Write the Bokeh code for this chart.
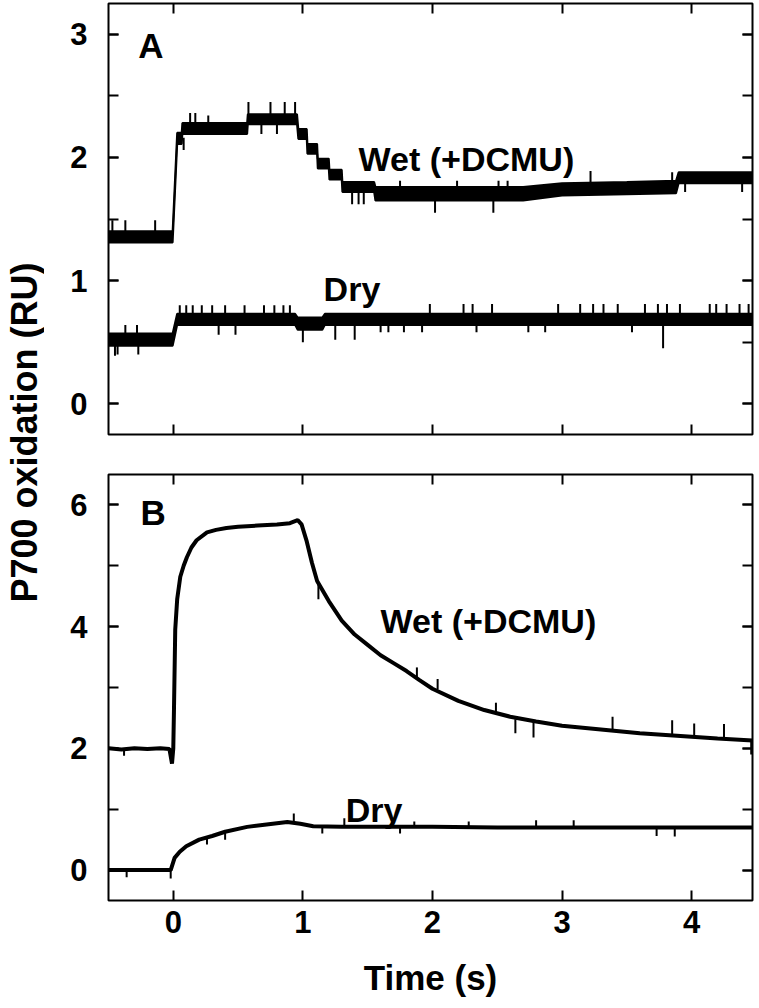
from bokeh.plotting import figure
from bokeh.layouts import row, column
from bokeh.models import Label, LinearAxis, SingleIntervalTicker, Range1d
from bokeh.embed import file_html
from bokeh.resources import INLINE

FONT = "Liberation Sans"

# ---------------- data ----------------
x_limits = (-0.5, 4.47)
yA_limits = (-0.25, 3.25)
yB_limits = (-0.5, 6.5)

# Panel A, Wet (+DCMU): band (low/high) of the quantised trace
wetA_t = [-0.5, -0.005, 0.03, 0.065, 0.07, 0.57, 0.575, 0.955, 0.965, 1.03, 1.035, 1.11, 1.115,
          1.2, 1.205, 1.3, 1.305, 1.55, 1.56, 2.7, 3.0, 3.5, 3.88, 3.9, 4.47]
wetA_low = [1.31, 1.31, 2.11, 2.11, 2.19, 2.19, 2.27, 2.27, 2.15, 2.15, 2.03, 2.03, 1.91,
            1.91, 1.82, 1.82, 1.72, 1.72, 1.65, 1.65, 1.69, 1.70, 1.71, 1.79, 1.79]
wetA_high = [1.40, 1.40, 2.20, 2.20, 2.28, 2.28, 2.35, 2.35, 2.23, 2.23, 2.11, 2.11, 1.99,
             1.99, 1.90, 1.90, 1.80, 1.80, 1.76, 1.76, 1.79, 1.80, 1.81, 1.88, 1.88]
wetA_spk_t = [-0.47, -0.37, -0.14, 0.08, 0.13, 0.17, 0.27, 0.58, 0.68, 0.75, 0.80, 0.86, 0.94,
              1.38, 1.43, 1.47, 1.75, 2.02, 2.19, 2.47, 2.51, 2.58, 3.22, 3.85, 3.95, 4.39]
wetA_spk_base = [1.36, 1.36, 1.36, 2.16, 2.24, 2.24, 2.24, 2.31, 2.31, 2.31, 2.31, 2.31, 2.31,
                 1.76, 1.76, 1.76, 1.70, 1.70, 1.70, 1.70, 1.70, 1.70, 1.75, 1.77, 1.83, 1.83]
wetA_spk_tip = [1.49, 1.49, 1.49, 2.06, 2.36, 2.36, 2.34, 2.45, 2.19, 2.45, 2.19, 2.45, 2.45,
                1.62, 1.62, 1.62, 1.81, 1.55, 1.81, 1.55, 1.81, 1.81, 1.89, 1.88, 1.72, 1.72]

# Panel A, Dry
dryA_t = [-0.5, -0.005, 0.03, 0.94, 0.96, 1.15, 1.17, 4.47]
dryA_low = [0.47, 0.47, 0.64, 0.64, 0.60, 0.60, 0.64, 0.64]
dryA_high = [0.57, 0.57, 0.73, 0.73, 0.70, 0.70, 0.73, 0.73]
dryA_spk_t = [-0.45, -0.43, -0.37, -0.28, -0.27, 0.05, 0.10, 0.15, 0.22, 0.30, 0.35, 0.40, 0.48,
              0.55, 0.70, 0.78, 0.85, 0.90, 1.00, 1.25, 1.40, 1.60, 1.66, 1.78, 1.92, 1.98, 2.24,
              2.31, 2.34, 2.46, 2.74, 2.87, 2.97, 3.14, 3.24, 3.32, 3.43, 3.54, 3.64, 3.74, 3.78,
              3.81, 3.91, 4.14, 4.19, 4.27, 4.37, 4.44]
dryA_spk_base = [0.52, 0.52, 0.52, 0.52, 0.52, 0.68, 0.68, 0.68, 0.68, 0.68, 0.68, 0.68, 0.68,
                 0.68, 0.68, 0.68, 0.68, 0.68, 0.65, 0.66, 0.66, 0.69, 0.69, 0.69, 0.69, 0.69, 0.69,
                 0.69, 0.69, 0.69, 0.69, 0.69, 0.69, 0.69, 0.69, 0.69, 0.69, 0.69, 0.69, 0.69, 0.69,
                 0.69, 0.69, 0.69, 0.69, 0.69, 0.69, 0.69]
dryA_spk_tip = [0.39, 0.40, 0.64, 0.64, 0.40, 0.80, 0.80, 0.80, 0.80, 0.80, 0.56, 0.80, 0.56,
                0.80, 0.80, 0.80, 0.80, 0.80, 0.50, 0.52, 0.52, 0.58, 0.58, 0.58, 0.58, 0.81, 0.81,
                0.81, 0.58, 0.81, 0.58, 0.58, 0.81, 0.81, 0.81, 0.81, 0.81, 0.58, 0.81, 0.81, 0.45,
                0.81, 0.81, 0.81, 0.81, 0.81, 0.81, 0.81]

# Panel B, Wet (+DCMU)
wetB_t = [-0.5, -0.4, -0.3, -0.2, -0.1, -0.03, -0.01, 0.0, 0.005, 0.015, 0.03, 0.054, 0.08, 0.105,
          0.14, 0.18, 0.26, 0.33, 0.41, 0.5, 0.65, 0.8, 0.9, 0.96, 0.99, 1.03, 1.07, 1.11, 1.2,
          1.3, 1.4, 1.5, 1.6, 1.7, 1.8, 1.9, 2.0, 2.2, 2.4, 2.6, 2.8, 3.0, 3.2, 3.4, 3.6, 3.8,
          4.0, 4.2, 4.47]
wetB_v = [2.0, 1.98, 2.0, 1.99, 2.0, 1.99, 1.75, 2.0, 2.6, 3.95, 4.45, 4.82, 5.0, 5.14,
          5.3, 5.42, 5.55, 5.59, 5.62, 5.64, 5.66, 5.68, 5.7, 5.75, 5.68, 5.4, 5.05, 4.75, 4.42,
          4.1, 3.87, 3.7, 3.53, 3.4, 3.27, 3.12, 2.98, 2.78, 2.63, 2.52, 2.44, 2.37, 2.33, 2.29,
          2.25, 2.22, 2.19, 2.16, 2.13]
wetB_spk_t = [-0.38, 1.12, 1.88, 2.04, 2.49, 2.64, 2.78, 3.39, 3.85, 4.02, 4.25, 4.46]
wetB_spk_base = [2.0, 4.7, 3.15, 2.97, 2.58, 2.48, 2.43, 2.29, 2.21, 2.19, 2.16, 2.13]
wetB_spk_tip = [1.88, 4.45, 3.33, 3.14, 2.75, 2.25, 2.18, 2.52, 2.46, 2.41, 2.40, 1.90]

# Panel B, Dry
dryB_t = [-0.5, -0.3, -0.1, -0.02, 0.01, 0.05, 0.1, 0.2, 0.3, 0.4, 0.57, 0.72, 0.88, 0.98,
          1.08, 1.3, 1.6, 2.0, 2.5, 3.0, 3.5, 4.0, 4.47]
dryB_v = [0.0, 0.0, 0.0, 0.0, 0.2, 0.3, 0.39, 0.5, 0.56, 0.63, 0.71, 0.75, 0.79, 0.76,
          0.72, 0.71, 0.71, 0.71, 0.70, 0.70, 0.70, 0.70, 0.70]
dryB_spk_t = [-0.36, -0.02, 0.26, 0.40, 0.93, 1.15, 1.32, 1.75, 1.86, 2.28, 2.80, 3.09, 3.73, 3.87]
dryB_spk_base = [0.0, 0.0, 0.54, 0.63, 0.79, 0.72, 0.71, 0.71, 0.71, 0.71, 0.70, 0.70, 0.70, 0.70]
dryB_spk_tip = [-0.12, -0.14, 0.42, 0.50, 0.93, 0.60, 0.85, 0.60, 0.80, 0.80, 0.82, 0.82, 0.56, 0.55]

# text annotations (data coordinates)
panel_letters = ["A", "B"]
letter_pos = [(-0.27, 2.91), (-0.254, 5.87)]
series_names = ["Wet (+DCMU)", "Dry"]
A_name_pos = [(1.43, 1.99), (1.16, 0.93)]
B_name_pos = [(1.60, 4.09), (1.33, 0.98)]

y_label = "P700 oxidation (RU)"
x_label = "Time (s)"

# ---------------- plotting ----------------
shared_x = Range1d(*x_limits)


def style_axis(ax, labelled):
    ax.axis_line_color = None
    ax.major_tick_in = 10
    ax.major_tick_out = 0
    ax.minor_tick_in = 10
    ax.minor_tick_out = 0
    ax.major_tick_line_width = 2
    ax.minor_tick_line_width = 2
    ax.major_tick_line_color = "black"
    ax.minor_tick_line_color = "black"
    ax.major_label_text_font = FONT
    ax.major_label_text_font_style = "bold"
    if labelled:
        ax.major_label_text_font_size = "31px"
        ax.major_label_text_color = "black"
    else:
        ax.major_label_text_font_size = "1px"
        ax.major_label_text_color = None
        ax.major_label_standoff = 0


def make_panel(height, ylim, y_interval, top, bottom, x_labels):
    p = figure(width=711, height=height, x_range=shared_x, y_range=Range1d(*ylim),
               toolbar_location=None, output_backend="svg",
               min_border_left=64, min_border_right=3,
               min_border_top=top, min_border_bottom=bottom)
    p.grid.visible = False
    p.outline_line_color = "black"
    p.outline_line_width = 2
    p.outline_line_alpha = 1.0
    p.below[0].ticker = SingleIntervalTicker(interval=1, num_minor_ticks=0)
    p.left[0].ticker = SingleIntervalTicker(interval=y_interval, num_minor_ticks=2)
    top_ax = LinearAxis(ticker=SingleIntervalTicker(interval=1, num_minor_ticks=0))
    right_ax = LinearAxis(ticker=SingleIntervalTicker(interval=y_interval, num_minor_ticks=2))
    p.add_layout(top_ax, "above")
    p.add_layout(right_ax, "right")
    style_axis(p.left[0], True)
    p.left[0].major_label_standoff = 21
    style_axis(top_ax, False)
    style_axis(right_ax, False)
    bottom_ax = p.below[0]
    style_axis(bottom_ax, x_labels)
    if x_labels:
        bottom_ax.major_label_standoff = 10
        bottom_ax.axis_label = x_label
        bottom_ax.axis_label_text_font = FONT
        bottom_ax.axis_label_text_font_style = "bold"
        bottom_ax.axis_label_text_font_size = "35px"
        bottom_ax.axis_label_text_color = "black"
        bottom_ax.axis_label_standoff = 22
    return p


def band_trace(p, t, low, high):
    p.varea(x=t, y1=low, y2=high, fill_color="black")
    p.line(t, low, line_color="black", line_width=2)
    p.line(t, high, line_color="black", line_width=2)


def spikes(p, t, base, tip):
    p.segment(x0=t, y0=base, x1=t, y1=tip, line_color="black", line_width=2)


def add_text(p, txt, pos, size):
    p.add_layout(Label(x=pos[0], y=pos[1], text=txt, text_font=FONT, text_font_style="bold",
                       text_font_size=size, text_color="black",
                       text_align="left", text_baseline="alphabetic"))


pA = make_panel(454, yA_limits, 1, 3, 20, False)
band_trace(pA, wetA_t, wetA_low, wetA_high)
band_trace(pA, dryA_t, dryA_low, dryA_high)
spikes(pA, wetA_spk_t, wetA_spk_base, wetA_spk_tip)
spikes(pA, dryA_spk_t, dryA_spk_base, dryA_spk_tip)
add_text(pA, panel_letters[0], letter_pos[0], "35px")
for name, pos in zip(series_names, A_name_pos):
    add_text(pA, name, pos, "34px")

pB = make_panel(554, yB_limits, 2, 20, 108, True)
pB.line(wetB_t, wetB_v, line_color="black", line_width=4)
pB.line(dryB_t, dryB_v, line_color="black", line_width=4)
spikes(pB, wetB_spk_t, wetB_spk_base, wetB_spk_tip)
spikes(pB, dryB_spk_t, dryB_spk_base, dryB_spk_tip)
add_text(pB, panel_letters[1], letter_pos[1], "35px")
for name, pos in zip(series_names, B_name_pos):
    add_text(pB, name, pos, "34px")

# narrow figure whose (empty) left axis carries the shared y-axis title
pL = figure(width=44, height=1008, x_range=Range1d(0, 1), y_range=Range1d(0, 1),
            toolbar_location=None, output_backend="svg",
            x_axis_location=None, y_axis_location="left",
            min_border_left=30, min_border_right=0, min_border_top=0, min_border_bottom=144)
pL.grid.visible = False
pL.outline_line_color = None
ax = pL.left[0]
ax.axis_line_color = None
ax.major_tick_line_color = None
ax.minor_tick_line_color = None
ax.major_tick_in = 0
ax.major_tick_out = 0
ax.minor_tick_in = 0
ax.minor_tick_out = 0
ax.major_label_text_font_size = "1px"
ax.major_label_text_color = None
ax.major_label_standoff = 0
ax.axis_label = y_label
ax.axis_label_text_font = FONT
ax.axis_label_text_font_style = "bold"
ax.axis_label_text_font_size = "36px"
ax.axis_label_text_color = "black"
ax.axis_label_standoff = 0

layout = row(pL, column(pA, pB, spacing=0), spacing=0)

open("out.html", "w").write(file_html(layout, INLINE))
